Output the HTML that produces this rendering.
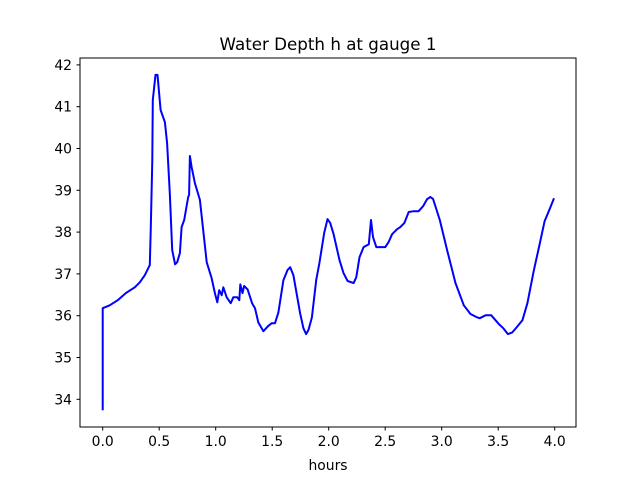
<!DOCTYPE html>
<html><head><meta charset="utf-8"><style>
html,body{margin:0;padding:0;background:#fff}
svg{display:block;font-family:"DejaVu Sans","Liberation Sans",sans-serif}
</style></head><body>
<svg id="chart" width="640" height="480" viewBox="0 0 640 480">
<rect width="640" height="480" fill="#fff"/>
<text x="328" y="50" font-size="16.7" text-anchor="middle" fill="#000">Water Depth h at gauge 1</text>
<g id="ticks"></g>
<polyline id="series" fill="none" stroke="#0000ff" stroke-width="2" stroke-linejoin="round"/>
<rect x="80" y="58" width="496" height="369" fill="none" stroke="#000" stroke-width="1"/>
<text x="328" y="470" font-size="13.9" text-anchor="middle" fill="#000">hours</text>
</svg>
<script>
const hours=[0.00,0.00,0.062,0.133,0.204,0.284,0.328,0.373,0.417,0.426,0.439,0.443,0.467,0.485,0.512,0.550,0.570,0.594,0.615,0.641,0.659,0.683,0.698,0.721,0.757,0.765,0.772,0.787,0.816,0.860,0.920,0.964,0.993,1.014,1.031,1.053,1.067,1.097,1.133,1.156,1.191,1.209,1.218,1.237,1.251,1.282,1.322,1.348,1.377,1.422,1.463,1.496,1.525,1.555,1.599,1.635,1.659,1.688,1.747,1.776,1.800,1.821,1.851,1.889,1.918,1.960,1.989,2.013,2.043,2.096,2.131,2.167,2.220,2.244,2.273,2.309,2.355,2.374,2.392,2.421,2.472,2.501,2.530,2.561,2.605,2.634,2.670,2.708,2.752,2.796,2.835,2.871,2.900,2.924,2.983,3.048,3.122,3.196,3.255,3.314,3.337,3.388,3.439,3.477,3.506,3.545,3.586,3.625,3.663,3.714,3.758,3.816,3.861,3.911,3.958,3.994];
const depth=[33.74,36.18,36.25,36.37,36.54,36.68,36.80,36.97,37.21,38.12,39.72,41.16,41.76,41.76,40.92,40.63,40.13,38.93,37.57,37.23,37.28,37.50,38.12,38.29,38.84,38.89,39.82,39.56,39.17,38.77,37.28,36.90,36.54,36.32,36.61,36.49,36.68,36.44,36.30,36.44,36.44,36.37,36.75,36.54,36.71,36.63,36.30,36.18,35.84,35.63,35.75,35.82,35.82,36.08,36.85,37.09,37.16,36.97,36.06,35.70,35.56,35.66,35.96,36.85,37.26,37.98,38.31,38.22,37.95,37.33,37.02,36.83,36.78,36.92,37.40,37.64,37.71,38.29,37.88,37.64,37.64,37.64,37.76,37.95,38.07,38.12,38.22,38.48,38.50,38.50,38.62,38.79,38.84,38.79,38.29,37.57,36.78,36.25,36.04,35.96,35.94,36.01,36.01,35.89,35.80,35.70,35.56,35.60,35.72,35.89,36.30,37.09,37.64,38.26,38.57,38.81];
const xTicks=[0,0.5,1,1.5,2,2.5,3,3.5,4];
const xTickLabels=["0.0","0.5","1.0","1.5","2.0","2.5","3.0","3.5","4.0"];
const yTicks=[34,35,36,37,38,39,40,41,42];
const yTickLabels=["34","35","36","37","38","39","40","41","42"];

const xScale=v=>102.7+v*113;
const yScale=v=>399.3-(v-34)*41.8;
const NS="http://www.w3.org/2000/svg";
const g=document.getElementById('ticks');
xTicks.forEach((t,i)=>{
  const x=xScale(t);
  const l=document.createElementNS(NS,'line');
  l.setAttribute('x1',x);l.setAttribute('x2',x);l.setAttribute('y1',427);l.setAttribute('y2',430.5);
  l.setAttribute('stroke','#000');
  
  
  g.appendChild(l);
  const tx=document.createElementNS(NS,'text');
  tx.setAttribute('x',x);tx.setAttribute('y',446);tx.setAttribute('font-size','13.9');tx.setAttribute('text-anchor','middle');
  tx.textContent=xTickLabels[i];
  
  
  g.appendChild(tx);
});
yTicks.forEach((t,i)=>{
  const y=yScale(t);
  const l=document.createElementNS(NS,'line');
  l.setAttribute('x1',76.5);l.setAttribute('x2',80);l.setAttribute('y1',y);l.setAttribute('y2',y);
  l.setAttribute('stroke','#000');
  
  
  g.appendChild(l);
  const tx=document.createElementNS(NS,'text');
  tx.setAttribute('x',72);tx.setAttribute('y',y+5);tx.setAttribute('font-size','13.9');tx.setAttribute('text-anchor','end');
  tx.textContent=yTickLabels[i];
  
  
  g.appendChild(tx);
});
document.getElementById('series').setAttribute('points',hours.map((h,i)=>xScale(h).toFixed(1)+','+yScale(depth[i]).toFixed(1)).join(' '));
</script>
</body></html>
